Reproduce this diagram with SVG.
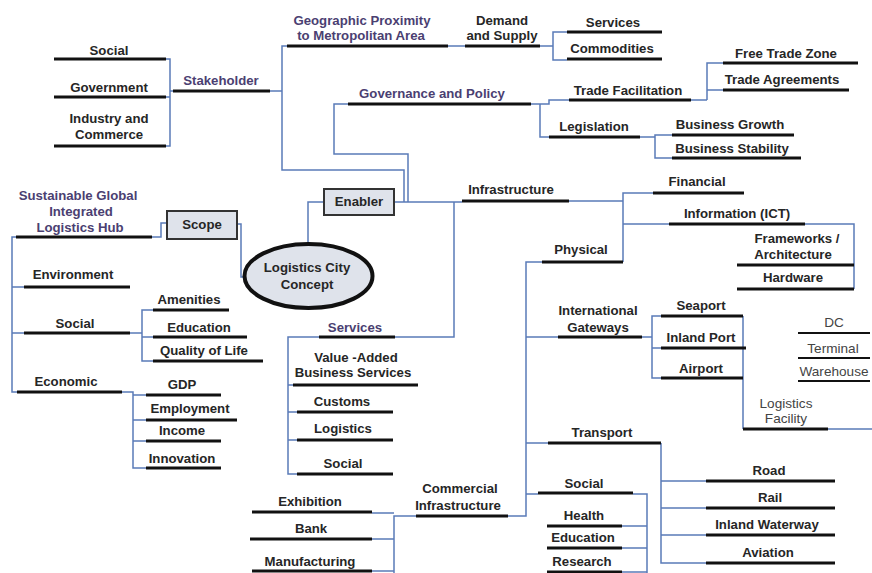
<svg xmlns="http://www.w3.org/2000/svg" width="872" height="573" viewBox="0 0 872 573">
<style>
text{font-family:"Liberation Sans",Arial,sans-serif;font-size:13.2px;font-weight:bold;fill:#262626;text-anchor:middle}
.p{fill:#4b3f72}
.r{font-weight:normal;fill:#444;font-size:13.6px}
.u{stroke:#111;stroke-width:3}
.ut{stroke:#111;stroke-width:2.2}
.c{stroke:#5a7bb8;stroke-width:1.5;fill:none}
.box{fill:#dfe3eb;stroke:#333;stroke-width:2}
</style>
<rect width="872" height="573" fill="#fff"/>
<g id="connectors" class="c">
<path d="M166,59H170V146H166M166,97H170M170,91H173"/>
<path d="M270,91H282M287,46H282V170H404V202"/>
<path d="M448,46H465M540,46H553M567,32H553V60H567"/>
<path d="M348,104H334V154H408V202"/>
<path d="M531,104H540V137H549M540,104H549V100H569"/>
<path d="M691,100H707M723,63H707V100M707,90H723"/>
<path d="M640,137H655M672,135H655V158H672"/>
<path d="M394,202H462M324,202H308V243"/>
<path d="M454,202V337H395M319,337H288V474H297M288,385H293M288,412H297M288,440H297"/>
<path d="M569,201H623M653,193H623V262M623,224H669"/>
<path d="M805,224H854V289"/>
<path d="M542,262H526V516H508M526,337H558M526,443H548M526,494H538"/>
<path d="M642,337H652M661,316H652V378H661M652,348H661M743,316V429M828,429H872"/>
<path d="M661,443V563H706M661,481H706M661,508H706M661,535H706"/>
<path d="M633,494H647V573M622,526H647M622,548H647M622,572H647"/>
<path d="M416,516H394V573M372,513H394M372,539H394M372,571H394"/>
<path d="M237,224H241V277H245M167,223H161V237H152"/>
<path d="M16,237H12V392H17M12,287H24M12,333H24"/>
<path d="M130,333H142M153,310H142V361H153M142,337H153"/>
<path d="M122,392H133V468H146M133,395H146M133,420H146M133,441H146"/>
</g>
<g id="n-social-top"><line class="u" x1="54" y1="59" x2="166" y2="59"/><text x="109" y="55">Social</text></g>
<g id="n-government"><line class="u" x1="54" y1="97" x2="166" y2="97"/><text x="109" y="92">Government</text></g>
<g id="n-industry"><line class="u" x1="54" y1="146" x2="166" y2="146"/><text x="109" y="123">Industry and</text><text x="109" y="139">Commerce</text></g>
<g id="n-stakeholder"><line class="u" x1="173" y1="91" x2="270" y2="91"/><text class="p" x="221" y="85">Stakeholder</text></g>
<g id="n-geographic"><line class="u" x1="287" y1="46" x2="448" y2="46"/><text class="p" x="362" y="25">Geographic Proximity</text><text class="p" x="361" y="40">to Metropolitan Area</text></g>
<g id="n-demand"><line class="u" x1="465" y1="46" x2="540" y2="46"/><text x="502" y="25">Demand</text><text x="502" y="40">and Supply</text></g>
<g id="n-services-top"><line class="u" x1="567" y1="32" x2="662" y2="32"/><text x="613" y="27">Services</text></g>
<g id="n-commodities"><line class="u" x1="567" y1="59" x2="662" y2="59"/><text x="612" y="53">Commodities</text></g>
<g id="n-governance"><line class="u" x1="348" y1="104" x2="531" y2="104"/><text class="p" x="432" y="98">Governance and Policy</text></g>
<g id="n-trade-facilitation"><line class="u" x1="569" y1="100" x2="691" y2="100"/><text x="628" y="95">Trade Facilitation</text></g>
<g id="n-ftz"><line class="u" x1="723" y1="63" x2="858" y2="63"/><text x="786" y="58">Free Trade Zone</text></g>
<g id="n-trade-agreements"><line class="u" x1="723" y1="90" x2="849" y2="90"/><text x="782" y="84">Trade Agreements</text></g>
<g id="n-legislation"><line class="u" x1="549" y1="137" x2="640" y2="137"/><text x="594" y="131">Legislation</text></g>
<g id="n-business-growth"><line class="u" x1="672" y1="135" x2="794" y2="135"/><text x="730" y="129">Business Growth</text></g>
<g id="n-business-stability"><line class="u" x1="672" y1="158" x2="801" y2="158"/><text x="732" y="153">Business Stability</text></g>
<g id="n-enabler"><rect class="box" x="324" y="189" width="70" height="26"/><text x="359" y="206">Enabler</text></g>
<g id="n-infrastructure"><line class="u" x1="462" y1="201" x2="569" y2="201"/><text x="511" y="194">Infrastructure</text></g>
<g id="n-financial"><line class="u" x1="653" y1="193" x2="744" y2="193"/><text x="697" y="186">Financial</text></g>
<g id="n-information"><line class="u" x1="669" y1="224" x2="805" y2="224"/><text x="737" y="218">Information (ICT)</text></g>
<g id="n-frameworks"><line class="u" x1="737" y1="265" x2="854" y2="265"/><text x="797" y="243">Frameworks /</text><text x="793" y="259">Architecture</text></g>
<g id="n-hardware"><line class="u" x1="737" y1="289" x2="854" y2="289"/><text x="793" y="282">Hardware</text></g>
<g id="n-physical"><line class="u" x1="542" y1="262" x2="623" y2="262"/><text x="581" y="254">Physical</text></g>
<g id="n-intl-gateways"><line class="u" x1="558" y1="337" x2="642" y2="337"/><text x="598" y="315">International</text><text x="598" y="332">Gateways</text></g>
<g id="n-seaport"><line class="u" x1="661" y1="316" x2="743" y2="316"/><text x="701" y="310">Seaport</text></g>
<g id="n-inland-port"><line class="u" x1="661" y1="348" x2="746" y2="348"/><text x="701" y="342">Inland Port</text></g>
<g id="n-airport"><line class="u" x1="661" y1="378" x2="743" y2="378"/><text x="701" y="373">Airport</text></g>
<g id="n-logistics-facility"><line class="u" x1="743" y1="429" x2="828" y2="429"/><text class="r" x="786" y="408">Logistics</text><text class="r" x="786" y="423">Facility</text></g>
<g id="n-dc"><line class="ut" x1="798" y1="333" x2="870" y2="333"/><text class="r" x="834" y="327">DC</text></g>
<g id="n-terminal"><line class="ut" x1="798" y1="358" x2="870" y2="358"/><text class="r" x="833" y="353">Terminal</text></g>
<g id="n-warehouse"><line class="ut" x1="798" y1="381" x2="870" y2="381"/><text class="r" x="834" y="376">Warehouse</text></g>
<g id="n-transport"><line class="u" x1="548" y1="443" x2="661" y2="443"/><text x="602" y="437">Transport</text></g>
<g id="n-road"><line class="u" x1="706" y1="481" x2="835" y2="481"/><text x="769" y="475">Road</text></g>
<g id="n-rail"><line class="u" x1="706" y1="508" x2="835" y2="508"/><text x="770" y="502">Rail</text></g>
<g id="n-inland-waterway"><line class="u" x1="706" y1="535" x2="835" y2="535"/><text x="767" y="529">Inland Waterway</text></g>
<g id="n-aviation"><line class="u" x1="706" y1="563" x2="835" y2="563"/><text x="768" y="557">Aviation</text></g>
<g id="n-social-bottom"><line class="u" x1="538" y1="493" x2="633" y2="493"/><text x="584" y="488">Social</text></g>
<g id="n-health"><line class="u" x1="547" y1="526" x2="622" y2="526"/><text x="584" y="520">Health</text></g>
<g id="n-education-bottom"><line class="u" x1="547" y1="548" x2="622" y2="548"/><text x="583" y="542">Education</text></g>
<g id="n-research"><line class="u" x1="547" y1="572" x2="622" y2="572"/><text x="582" y="566">Research</text></g>
<g id="n-commercial"><line class="u" x1="416" y1="516" x2="508" y2="516"/><text x="460" y="493">Commercial</text><text x="458" y="510">Infrastructure</text></g>
<g id="n-exhibition"><line class="u" x1="252" y1="512" x2="372" y2="512"/><text x="310" y="506">Exhibition</text></g>
<g id="n-bank"><line class="u" x1="250" y1="539" x2="372" y2="539"/><text x="311" y="533">Bank</text></g>
<g id="n-manufacturing"><line class="u" x1="252" y1="571" x2="372" y2="571"/><text x="310" y="566">Manufacturing</text></g>
<g id="n-services-mid"><line class="u" x1="319" y1="337" x2="395" y2="337"/><text class="p" x="355" y="332">Services</text></g>
<g id="n-value-added"><line class="u" x1="293" y1="385" x2="418" y2="385"/><text x="356" y="362">Value -Added</text><text x="353" y="377">Business Services</text></g>
<g id="n-customs"><line class="u" x1="297" y1="412" x2="393" y2="412"/><text x="342" y="406">Customs</text></g>
<g id="n-logistics"><line class="u" x1="297" y1="440" x2="393" y2="440"/><text x="343" y="433">Logistics</text></g>
<g id="n-social-mid"><line class="u" x1="297" y1="474" x2="393" y2="474"/><text x="343" y="468">Social</text></g>
<g id="n-concept"><ellipse cx="308.5" cy="276" rx="64" ry="32" fill="#dfe3eb" stroke="#111" stroke-width="4"/><text x="307" y="272">Logistics City</text><text x="307" y="289">Concept</text></g>
<g id="n-scope"><rect class="box" x="167" y="211" width="70" height="28"/><text x="202" y="229">Scope</text></g>
<g id="n-sustainable"><line class="u" x1="16" y1="237" x2="152" y2="237"/><text class="p" x="78" y="200">Sustainable Global</text><text class="p" x="81" y="216">Integrated</text><text class="p" x="80" y="232">Logistics Hub</text></g>
<g id="n-environment"><line class="u" x1="24" y1="287" x2="130" y2="287"/><text x="73" y="279">Environment</text></g>
<g id="n-social-left"><line class="u" x1="24" y1="333" x2="130" y2="333"/><text x="75" y="328">Social</text></g>
<g id="n-amenities"><line class="u" x1="153" y1="310" x2="229" y2="310"/><text x="189" y="304">Amenities</text></g>
<g id="n-education-left"><line class="u" x1="153" y1="337" x2="247" y2="337"/><text x="199" y="332">Education</text></g>
<g id="n-quality"><line class="u" x1="153" y1="361" x2="263" y2="361"/><text x="204" y="355">Quality of Life</text></g>
<g id="n-economic"><line class="u" x1="17" y1="392" x2="122" y2="392" stroke-width="4"/><text x="66" y="386">Economic</text></g>
<g id="n-gdp"><line class="u" x1="146" y1="395" x2="221" y2="395"/><text x="182" y="389">GDP</text></g>
<g id="n-employment"><line class="u" x1="146" y1="420" x2="237" y2="420"/><text x="190" y="413">Employment</text></g>
<g id="n-income"><line class="u" x1="146" y1="441" x2="221" y2="441"/><text x="182" y="435">Income</text></g>
<g id="n-innovation"><line class="u" x1="146" y1="468" x2="221" y2="468"/><text x="182" y="463">Innovation</text></g>
</svg>
